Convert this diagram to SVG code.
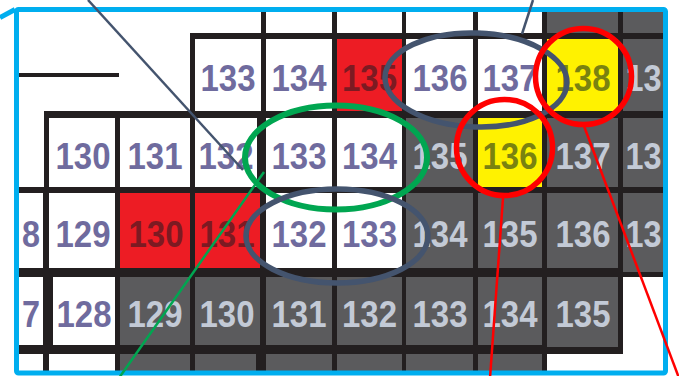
<svg xmlns="http://www.w3.org/2000/svg" width="679" height="376" viewBox="0 0 679 376">
<style>
.bk{fill:#231f20}
.w{fill:#ffffff}.g{fill:#5b5b5d}.r{fill:#ed1c24}.y{fill:#fff200}
text{font-family:"Liberation Sans",Arial,sans-serif;font-weight:bold;font-size:37px;text-anchor:middle}
.tw{fill:#6f6b9e}.tg{fill:#c3cad6}.tr{fill:#7c1a22}.ty{fill:#7a8210}
.sl{fill:none;stroke:#44546e;stroke-width:5.5}
.gr{fill:none;stroke:#00a651;stroke-width:6}
.rd{fill:none;stroke:#ff0000;stroke-width:5.5}
.ln{fill:none;stroke-width:2.5}
</style>
<defs>
<clipPath id="inner"><rect x="19" y="12" width="644" height="359"/></clipPath>
</defs>
<rect width="679" height="376" fill="#ffffff"/>
<g id="grid" clip-path="url(#inner)">
<g id="grid-lines">
<rect class="bk" x="261" y="0" width="420" height="39"/>
<rect class="bk" x="190" y="33" width="490" height="85"/>
<rect class="bk" x="44" y="111" width="636" height="82"/>
<rect class="bk" x="0" y="187" width="680" height="90"/>
<rect class="bk" x="0" y="268" width="623" height="86"/>
<rect class="bk" x="0" y="345" width="547" height="40"/>
<rect class="bk" x="19" y="73" width="100" height="4"/>
</g>
<g id="rowA">
<rect class="w" x="266" y="0" width="66" height="33"/>
<rect class="w" x="337" y="0" width="65" height="33"/>
<rect class="w" x="406" y="0" width="67" height="33"/>
<rect class="w" x="478" y="0" width="64" height="33"/>
<rect class="g" x="547" y="0" width="71" height="33"/>
<rect class="g" x="623" y="0" width="60" height="33"/>
</g>
<g id="rowB">
<g id="b133"><rect class="w" x="195" y="39" width="66" height="72"/><text class="tw" x="228" y="91" textLength="55" lengthAdjust="spacingAndGlyphs">133</text></g>
<g id="b134"><rect class="w" x="266" y="39" width="66" height="72"/><text class="tw" x="299" y="91" textLength="55" lengthAdjust="spacingAndGlyphs">134</text></g>
<g id="b135"><rect class="r" x="337" y="39" width="65" height="72"/><text class="tr" x="369.5" y="91" textLength="55" lengthAdjust="spacingAndGlyphs">135</text></g>
<g id="b136"><rect class="w" x="406" y="39" width="67" height="72"/><text class="tw" x="440" y="91" textLength="55" lengthAdjust="spacingAndGlyphs">136</text></g>
<g id="b137"><rect class="w" x="478" y="39" width="64" height="72"/><text class="tw" x="510" y="91" textLength="55" lengthAdjust="spacingAndGlyphs">137</text></g>
<g id="b138"><rect class="y" x="547" y="39" width="71" height="72"/><text class="ty" x="583" y="91" textLength="55" lengthAdjust="spacingAndGlyphs">138</text></g>
<g id="b13x"><rect class="g" x="623" y="39" width="60" height="72"/><text class="tg" x="643.5" y="91" textLength="36" lengthAdjust="spacingAndGlyphs">13</text></g>
</g>
<g id="rowC">
<g id="c130"><rect class="w" x="49" y="118" width="66" height="69"/><text class="tw" x="83" y="168.5" textLength="55" lengthAdjust="spacingAndGlyphs">130</text></g>
<g id="c131"><rect class="w" x="120" y="118" width="70" height="69"/><text class="tw" x="155" y="168.5" textLength="55" lengthAdjust="spacingAndGlyphs">131</text></g>
<g id="c132"><rect class="w" x="195" y="118" width="62" height="69"/><text class="tw" x="226" y="168.5" textLength="55" lengthAdjust="spacingAndGlyphs">132</text></g>
<g id="c133"><rect class="w" x="266" y="118" width="66" height="69"/><text class="tw" x="299" y="168.5" textLength="55" lengthAdjust="spacingAndGlyphs">133</text></g>
<g id="c134"><rect class="w" x="337" y="118" width="65" height="69"/><text class="tw" x="369.5" y="168.5" textLength="55" lengthAdjust="spacingAndGlyphs">134</text></g>
<g id="c135"><rect class="g" x="406" y="118" width="67" height="69"/><text class="tg" x="440" y="168.5" textLength="55" lengthAdjust="spacingAndGlyphs">135</text></g>
<g id="c136"><rect class="y" x="478" y="118" width="64" height="69"/><text class="ty" x="510" y="168.5" textLength="55" lengthAdjust="spacingAndGlyphs">136</text></g>
<g id="c137"><rect class="g" x="547" y="118" width="71" height="69"/><text class="tg" x="583" y="168.5" textLength="55" lengthAdjust="spacingAndGlyphs">137</text></g>
<g id="c13x"><rect class="g" x="623" y="118" width="60" height="69"/><text class="tg" x="643.5" y="168.5" textLength="36" lengthAdjust="spacingAndGlyphs">13</text></g>
</g>
<g id="rowD">
<g id="d12x"><rect class="w" x="-30" y="193" width="73" height="75"/><text class="tw" x="31" y="247" textLength="18" lengthAdjust="spacingAndGlyphs">8</text></g>
<g id="d129"><rect class="w" x="49" y="193" width="66" height="75"/><text class="tw" x="83" y="247" textLength="55" lengthAdjust="spacingAndGlyphs">129</text></g>
<g id="d130"><rect class="r" x="120" y="193" width="70" height="75"/><text class="tr" x="156" y="247" textLength="55" lengthAdjust="spacingAndGlyphs">130</text></g>
<g id="d131"><rect class="r" x="195" y="193" width="65" height="75"/><text class="tr" x="227" y="247" textLength="55" lengthAdjust="spacingAndGlyphs">131</text></g>
<g id="d132"><rect class="w" x="266" y="193" width="66" height="75"/><text class="tw" x="299" y="247" textLength="55" lengthAdjust="spacingAndGlyphs">132</text></g>
<g id="d133"><rect class="w" x="337" y="193" width="65" height="75"/><text class="tw" x="369.5" y="247" textLength="55" lengthAdjust="spacingAndGlyphs">133</text></g>
<g id="d134"><rect class="g" x="406" y="193" width="67" height="75"/><text class="tg" x="440" y="247" textLength="55" lengthAdjust="spacingAndGlyphs">134</text></g>
<g id="d135"><rect class="g" x="478" y="193" width="64" height="75"/><text class="tg" x="510" y="247" textLength="55" lengthAdjust="spacingAndGlyphs">135</text></g>
<g id="d136"><rect class="g" x="547" y="193" width="71" height="75"/><text class="tg" x="583" y="247" textLength="55" lengthAdjust="spacingAndGlyphs">136</text></g>
<g id="d13x"><rect class="g" x="623" y="193" width="60" height="79"/><text class="tg" x="643.5" y="247" textLength="36" lengthAdjust="spacingAndGlyphs">13</text></g>
</g>
<g id="rowE">
<g id="e12x"><rect class="w" x="-30" y="277" width="73" height="68"/><text class="tw" x="31" y="327" textLength="18" lengthAdjust="spacingAndGlyphs">7</text></g>
<g id="e128"><rect class="w" x="53" y="277" width="62" height="68"/><text class="tw" x="84" y="327" textLength="55" lengthAdjust="spacingAndGlyphs">128</text></g>
<g id="e129"><rect class="g" x="120" y="277" width="70" height="68"/><text class="tg" x="155" y="327" textLength="55" lengthAdjust="spacingAndGlyphs">129</text></g>
<g id="e130"><rect class="g" x="195" y="277" width="65" height="68"/><text class="tg" x="227" y="327" textLength="55" lengthAdjust="spacingAndGlyphs">130</text></g>
<g id="e131"><rect class="g" x="266" y="277" width="66" height="68"/><text class="tg" x="299" y="327" textLength="55" lengthAdjust="spacingAndGlyphs">131</text></g>
<g id="e132"><rect class="g" x="337" y="277" width="65" height="68"/><text class="tg" x="369.5" y="327" textLength="55" lengthAdjust="spacingAndGlyphs">132</text></g>
<g id="e133"><rect class="g" x="406" y="277" width="67" height="68"/><text class="tg" x="440" y="327" textLength="55" lengthAdjust="spacingAndGlyphs">133</text></g>
<g id="e134"><rect class="g" x="478" y="277" width="64" height="68"/><text class="tg" x="510" y="327" textLength="55" lengthAdjust="spacingAndGlyphs">134</text></g>
<g id="e135"><rect class="g" x="547" y="277" width="71" height="70"/><text class="tg" x="583" y="327" textLength="55" lengthAdjust="spacingAndGlyphs">135</text></g>
</g>
<g id="rowF">
<rect class="w" x="-30" y="354" width="73" height="30"/>
<rect class="w" x="49" y="354" width="66" height="30"/>
<rect class="g" x="120" y="354" width="70" height="30"/>
<rect class="g" x="195" y="354" width="61" height="30"/>
<rect class="g" x="266" y="354" width="66" height="30"/>
<rect class="g" x="337" y="354" width="65" height="30"/>
<rect class="g" x="406" y="354" width="67" height="30"/>
<rect class="g" x="478" y="354" width="64" height="30"/>
</g>
</g>
<g id="highlights">
<ellipse id="oval-top" class="sl" cx="476" cy="80" rx="91" ry="47" transform="rotate(2 476 80)"/>
<ellipse id="oval-green" class="gr" cx="336" cy="157.5" rx="91" ry="52"/>
<ellipse id="oval-bottom" class="sl" cx="337" cy="236" rx="91" ry="47"/>
<circle id="circle-138" class="rd" cx="583.5" cy="76.5" r="48"/>
<circle id="circle-136" class="rd" cx="504.5" cy="147.5" r="48"/>
</g>
<g id="frame">
<rect x="16.5" y="9.5" width="649" height="363.5" rx="2" fill="none" stroke="#00aeef" stroke-width="5"/>
<polyline points="0,17.5 15,9.5" fill="none" stroke="#00aeef" stroke-width="5"/>
</g>
<g id="connectors">
<line class="ln" x1="88" y1="0" x2="243" y2="170" stroke="#44546e"/>
<line class="ln" x1="533" y1="0" x2="522" y2="34" stroke="#44546e"/>
<line class="ln" x1="264" y1="172" x2="119" y2="378" stroke="#00a651"/>
<line class="ln" x1="503" y1="198" x2="490" y2="378" stroke="#ff0000"/>
<line class="ln" x1="584" y1="126" x2="679" y2="378" stroke="#ff0000"/>
</g>
</svg>
